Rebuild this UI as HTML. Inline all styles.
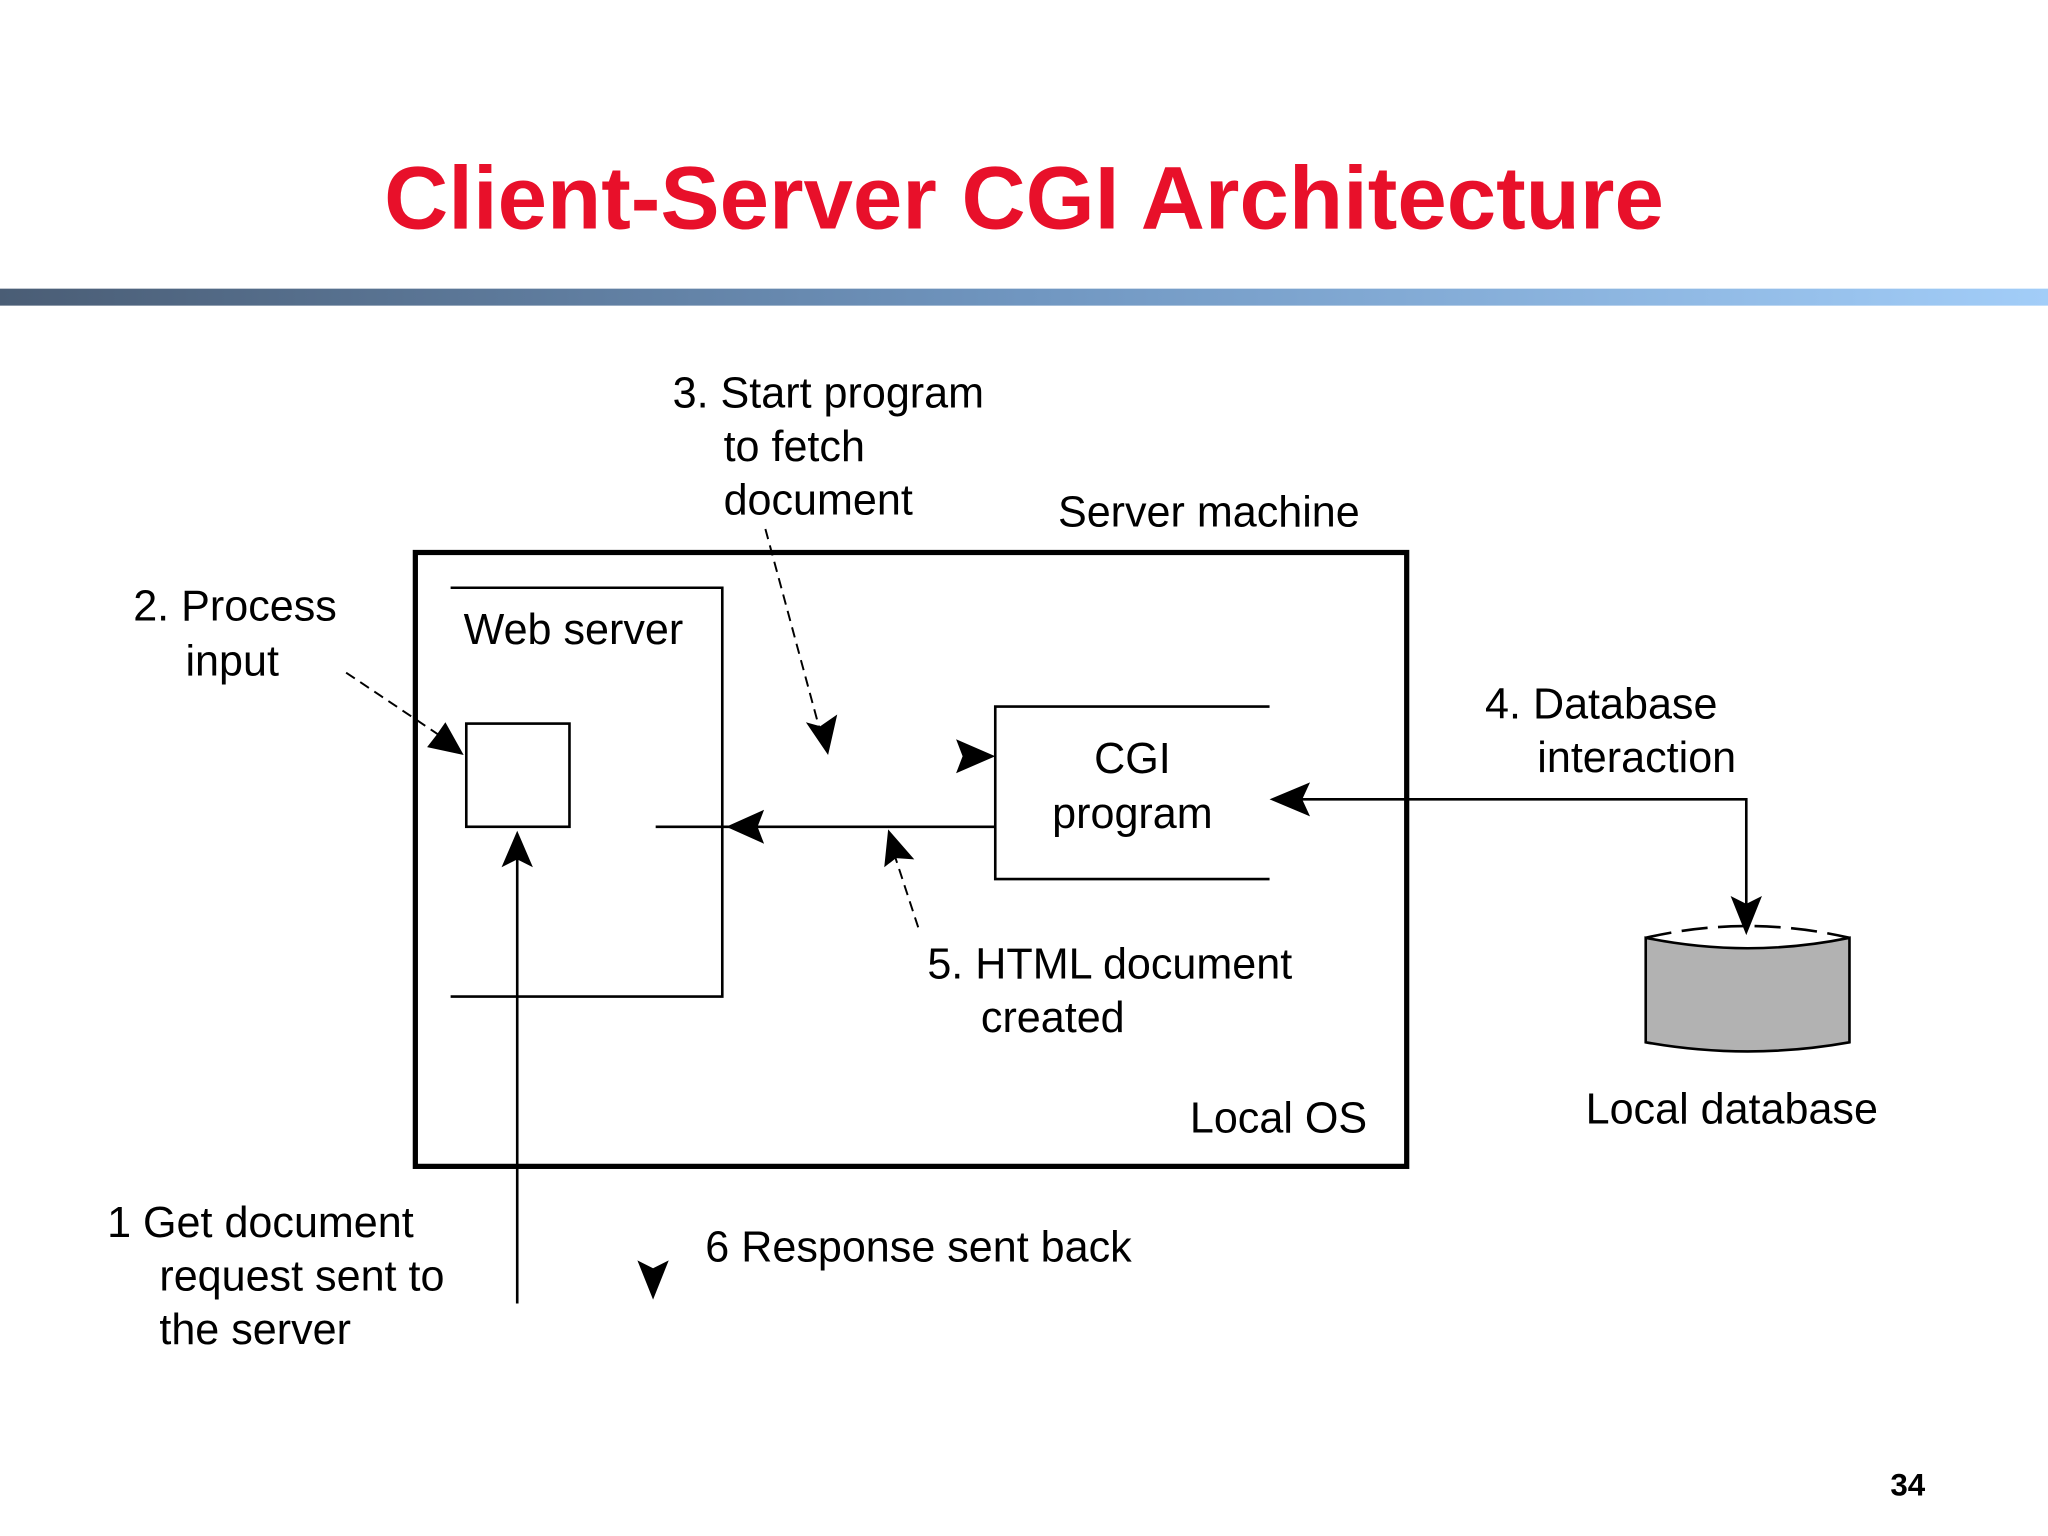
<!DOCTYPE html>
<html><head><meta charset="utf-8"><style>
html,body{margin:0;padding:0;background:#fff;width:2048px;height:1536px;overflow:hidden}
svg{display:block}
text{font-family:"Liberation Sans",sans-serif;fill:#000}
</style></head><body>
<svg width="2048" height="1536" viewBox="0 0 1568 1176" xmlns="http://www.w3.org/2000/svg">
<defs>
<linearGradient id="g" x1="0" x2="1" y1="0" y2="0">
<stop offset="0" stop-color="#4a5d75"/><stop offset="0.5" stop-color="#7096c0"/><stop offset="1" stop-color="#a2cdf8"/>
</linearGradient>
</defs>
<text x="784" y="175" text-anchor="middle" font-size="68" font-weight="bold" style="fill:#e8102a">Client-Server CGI Architecture</text>
<rect x="0" y="221" width="1568" height="13" fill="url(#g)"/>

<g font-size="33">
<text x="515" y="312">3. Start program</text>
<text x="554" y="353">to fetch</text>
<text x="554" y="394">document</text>
<text x="810" y="403">Server machine</text>
<text x="102" y="475">2. Process</text>
<text x="142" y="517">input</text>
<text x="355" y="493">Web server</text>
<text x="867" y="592" text-anchor="middle">CGI</text>
<text x="867" y="634" text-anchor="middle">program</text>
<text x="1137" y="550">4. Database</text>
<text x="1177" y="591">interaction</text>
<text x="710" y="749">5. HTML document</text>
<text x="751" y="790">created</text>
<text x="911" y="867">Local OS</text>
<text x="1214" y="860">Local database</text>
<text x="82" y="947">1  Get document</text>
<text x="122" y="988">request sent to</text>
<text x="122" y="1029">the server</text>
<text x="540" y="966">6  Response sent back</text>
</g>
<text x="1474" y="1145" text-anchor="end" font-size="24" font-weight="bold">34</text>

<g stroke="#000" fill="none">
<rect x="318" y="423" width="759" height="470" stroke-width="4"/>
<polyline points="345,450 553,450 553,763 345,763" stroke-width="2"/>
<rect x="357" y="554" width="79" height="79" stroke-width="2"/>
<line x1="502" y1="633" x2="762" y2="633" stroke-width="2"/>
<polyline points="972,541 762,541 762,673 972,673" stroke-width="2"/>
<polyline points="990,612 1337,612 1337,700" stroke-width="2"/>
<line x1="396" y1="998" x2="396" y2="650" stroke-width="2"/>
<line x1="586" y1="405" x2="628" y2="560" stroke-width="1.5" stroke-dasharray="8,5"/>
<line x1="265" y1="515" x2="335" y2="562" stroke-width="1.5" stroke-dasharray="8,5"/>
<line x1="703" y1="710" x2="685" y2="655" stroke-width="1.5" stroke-dasharray="8,5"/>
</g>
<g fill="#000">
<polygon points="556,633 585,620 580,633 585,646"/>
<polygon points="762,579 732,566 737,579 732,592"/>
<polygon points="972,612 1003,599 997,612 1003,625"/>
<polygon points="1337,716 1325,686 1337,692 1349,686"/>
<polygon points="396,636 384,664 396,658 408,664"/>
<polygon points="500,995 488,965 500,971 512,965"/>
<polygon points="634,578 617,553 628,556 641,547"/>
<polygon points="355,578 327,572 334,563 341,553"/>
<polygon points="680,635 677,664 686,657 700,658"/>
</g>
<g stroke="#000" stroke-width="2">
<path d="M1260,718 L1260,798 Q1338,812 1416,798 L1416,718 Q1338,734 1260,718 Z" fill="#b2b2b2"/>
<path d="M1260,718 Q1338,700 1416,718" fill="none" stroke-dasharray="20,8"/>
</g>
</svg>
</body></html>
